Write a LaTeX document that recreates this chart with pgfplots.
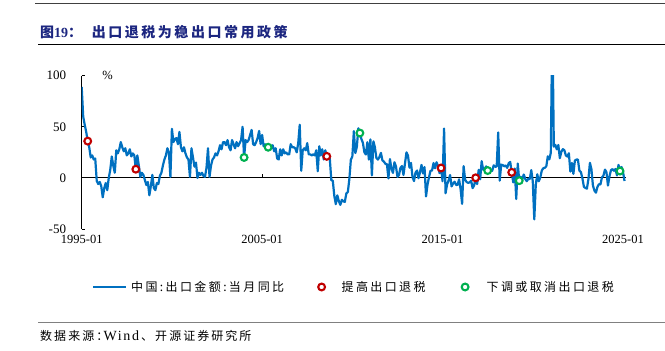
\documentclass[border=0pt]{standalone}
\usepackage{pgfplots}
\usepackage{pgfplotstable}
\pgfplotsset{compat=1.18}
\usepackage{fontspec}
\setmainfont{Liberation Serif}
\newfontfamily\cjkt[LetterSpace=18]{Noto Sans CJK SC}
\newfontfamily\cjkl[LetterSpace=20]{Noto Sans CJK SC}
\newfontfamily\cjks[LetterSpace=17]{Noto Sans CJK SC}
\newfontfamily\wdf[LetterSpace=12]{Liberation Serif}
\definecolor{lineblue}{RGB}{0,112,192}
\definecolor{mred}{RGB}{192,0,0}
\definecolor{mgreen}{RGB}{0,176,80}
\definecolor{titleblue}{RGB}{28,38,128}

\pgfplotsset{
  lineleg/.style={legend image code/.code={\draw[##1] (0bp,0bp) -- (32.7bp,0bp); \path[draw=none,fill=none] (0bp,-1bp) rectangle (37.7bp,1bp);}},
  redleg/.style={legend image code/.code={\draw[##1] plot coordinates {(0bp,0bp)}; \path[draw=none,fill=none] (-4.5bp,-1bp) rectangle (20bp,1bp);}},
  greenleg/.style={legend image code/.code={\draw[##1] plot coordinates {(0bp,0bp)}; \path[draw=none,fill=none] (-4.5bp,-1bp) rectangle (21.5bp,1bp);}},
}

% month index n: 0 = 1995-01
\pgfplotstableread{
n v
0 89
1 60
2 52
3 45
4 36
5 30
6 20
7 22
8 18
9 19
10 -3
11 -6
12 -4
13 -8
14 -19
15 -10
16 -5
17 -12
18 0
19 8
20 21
21 12
22 5
23 27
24 24
25 28
26 35
27 30
28 26
29 29
30 22
31 24
32 28
33 21
34 24
35 22
36 8.5
37 22
38 12
39 1
40 5
41 3
42 -2
43 -7
44 -4
45 -17
46 -8
47 3
48 -10
49 -12
50 -5
51 -6
52 2
53 5
54 12
55 18
56 22
57 29
58 25
59 1
60 48
61 35
62 38
63 39
64 33
65 45
66 30
67 26
68 30
69 24
70 20
71 18
72 1
73 29
74 20
75 11
76 15
77 0
78 5
79 3
80 5
81 2
82 1
83 10
84 29
85 1
86 12
87 18
88 20
89 24
90 22
91 26
92 32
93 28
94 35
95 35
96 32
97 37
98 30
99 27
100 37
101 33
102 29
103 35
104 31
105 34
106 37
107 50
108 20
109 37
110 35
111 37
112 42
113 47
114 33
115 32
116 35
117 39
118 46
119 33
120 42
121 31
122 33
123 32
124 30
125 31
126 29
127 32
128 26
129 29
130 19
131 18
132 28
133 22
134 28
135 24
136 25
137 23
138 23
139 33
140 30
141 30
142 29
143 25
144 34
145 52
146 7
147 27
148 29
149 27
150 34
151 23
152 23
153 22
154 23
155 22
156 27
157 6.5
158 31
159 22
160 28
161 18
162 27
163 21.1
164 21.5
165 19
166 -2.2
167 -2.8
168 -17.5
169 -25.7
170 -17.1
171 -22.6
172 -26.4
173 -21.4
174 -23
175 -23.4
176 -15.2
177 -13.8
178 -1.2
179 17.7
180 21
181 45.7
182 24.3
183 30.5
184 48.5
185 43.9
186 38.1
187 34.4
188 25.1
189 22.9
190 34.9
191 17.9
192 37.7
193 2.4
194 35.8
195 29.9
196 19.4
197 17.9
198 20.4
199 24.5
200 17.1
201 15.9
202 13.8
203 13.4
204 -0.5
205 18.4
206 8.9
207 4.9
208 15.3
209 11.3
210 1
211 2.7
212 9.9
213 11.6
214 2.9
215 14.1
216 25
217 21.8
218 10
219 14.7
220 1
221 -3.1
222 5.1
223 7.2
224 -0.3
225 5.6
226 12.7
227 4.3
228 10.6
229 -18.1
230 -6.6
231 0.9
232 7
233 7.2
234 14.5
235 9.4
236 15.3
237 11.6
238 4.7
239 9.7
240 -3.3
241 48.3
242 -15
243 -6.4
244 -2.5
245 2.8
246 -8.3
247 -5.5
248 -3.7
249 -6.9
250 -6.8
251 -1.4
252 -11.2
253 -25.4
254 11.5
255 -1.8
256 -4.1
257 -4.8
258 -4.4
259 -2.8
260 -10
261 -7.3
262 0.1
263 -6.1
264 7.9
265 -1.3
266 16.4
267 8
268 8.7
269 11.3
270 7.2
271 5.5
272 8.1
273 6.9
274 12.3
275 10.9
276 11.1
277 44.5
278 -2.7
279 12.9
280 12.6
281 11.3
282 12.2
283 9.8
284 14.5
285 15.6
286 5.4
287 -4.4
288 9.1
289 -20.7
290 14
291 -2.7
292 1.1
293 -1.3
294 3.3
295 -1
296 -3.2
297 -0.9
298 -1.1
299 7.6
300 -3.5
301 -40.6
302 -6.6
303 3.5
304 -3.3
305 0.5
306 7.2
307 9.5
308 9.9
309 11.4
310 21.1
311 18.1
312 24.7
313 154.9
314 30.6
315 32.3
316 27.9
317 32.2
318 19.3
319 25.6
320 28.1
321 27.1
322 22
323 20.9
324 24.1
325 6.2
326 14.7
327 3.9
328 16.9
329 17.9
330 18
331 7.1
332 5.7
333 -0.3
334 -8.7
335 -9.9
336 -10.5
337 -1.3
338 14.8
339 8.5
340 -7.5
341 -12.4
342 -14.5
343 -8.8
344 -6.2
345 -6.4
346 0.5
347 2.3
348 8.1
349 5.6
350 -7.5
351 1.5
352 7.6
353 8.6
354 7
355 8.7
356 2.4
357 12.7
358 6.7
359 10.7
360 5.9
361 -3
}\exportdata

\pgfplotstableread{
n v
4 36
36 8.5
163 21.1
239 9.7
262 0.1
286 5.4
}\raisedata

\pgfplotstableread{
n v
108 20
124 30
185 43.9
270 7.2
291 -2.7
358 6.7
}\cutdata

\begin{document}
\begin{tikzpicture}
\useasboundingbox (0,0) rectangle (665bp,351bp);
% header rule
\draw[black!75, line width=1bp] (35bp,347.5bp) -- (665bp,347.5bp);
% title
\node[anchor=west, inner sep=0pt, text=titleblue] at (40bp,318.5bp)
  {\fontsize{14bp}{16bp}\selectfont{\cjkt\bfseries 图}{\bfseries 19}{\cjkt\bfseries ：}};
\node[anchor=west, inner sep=0pt, text=titleblue] at (91.7bp,318.5bp)
  {\fontsize{14bp}{16bp}\selectfont\cjkt\bfseries 出口退税为稳出口常用政策};
\draw[black, line width=1bp] (38.3bp,306.7bp) -- (665bp,306.7bp);
% unit
\node[inner sep=0pt] at (107.5bp,276bp) {\fontsize{12.5bp}{14bp}\selectfont\%};

\begin{axis}[
  at={(81.7bp,122bp)}, anchor=south west,
  scale only axis, width=544.3bp, height=153.3bp,
  xmin=0, xmax=362, ymin=-50, ymax=100,
  clip mode=individual,
  axis y line=left, axis x line=bottom,
  x axis line style={draw=none},
  y axis line style={-, black, line width=0.8bp},
  tick align=inside,
  major tick length=3.5bp,
  xtick={0,120,240,360},
  xticklabels={1995-01,2005-01,2015-01,2025-01},
  xtick style={draw=none},
  xticklabel style={font=\fontsize{12.5bp}{14bp}\selectfont, inner sep=0pt, anchor=north, yshift=-6bp},
  ytick={-50,0,50,100},
  yticklabels={-50,0,50,100},
  ytick style={black, line width=0.8bp},
  yticklabel style={font=\fontsize{13bp}{15bp}\selectfont, anchor=east, inner sep=0pt, xshift=-15.5bp},
  legend columns=3,
  legend cell align=left,
  legend style={at={(0.0195,-0.3783)}, anchor=west, draw=none, fill=none,
    inner sep=0pt, outer sep=0pt, column sep=0pt, row sep=0pt,
    nodes={inner sep=0pt, outer sep=0pt}},
]
\addplot[black, line width=0.8bp, forget plot] coordinates {(0,0) (362,0)};
\draw[black, line width=0.8bp] (axis cs:120,0) -- (axis cs:120,3.6);
\draw[black, line width=0.8bp] (axis cs:240,0) -- (axis cs:240,3.6);
\draw[black, line width=0.8bp] (axis cs:360,0) -- (axis cs:360,3.6);

\addplot[lineblue, line width=2.2bp, line join=round, lineleg]
  table[x=n, y=v] {\exportdata};
\addlegendentry{\makebox[186bp][l]{\cjkl\fontsize{12bp}{14bp}\selectfont 中国:出口金额:当月同比}}

\addplot[only marks, mark=*, mark size=3.4bp, mark options={draw=mred, fill=white, line width=2.1bp}, redleg]
  table[x=n, y=v] {\raisedata};
\addlegendentry{\makebox[119bp][l]{\cjkl\fontsize{12bp}{14bp}\selectfont 提高出口退税}}

\addplot[only marks, mark=*, mark size=3.4bp, mark options={draw=mgreen, fill=white, line width=2.1bp}, greenleg]
  table[x=n, y=v] {\cutdata};
\addlegendentry{\cjkl\fontsize{12bp}{14bp}\selectfont 下调或取消出口退税}
\end{axis}

% source
\draw[black!50, line width=1.3bp] (38.3bp,28.3bp) -- (665bp,28.3bp);
\node[anchor=west, inner sep=0pt] at (40bp,15bp) {\cjks\fontsize{12bp}{14bp}\selectfont 数据来源：};
\node[anchor=west, inner sep=0pt] at (103.3bp,15bp) {\wdf\fontsize{14bp}{16bp}\selectfont Wind};
\node[anchor=west, inner sep=0pt] at (141bp,15bp) {\cjks\fontsize{12bp}{14bp}\selectfont 、开源证券研究所};
\end{tikzpicture}
\end{document}
